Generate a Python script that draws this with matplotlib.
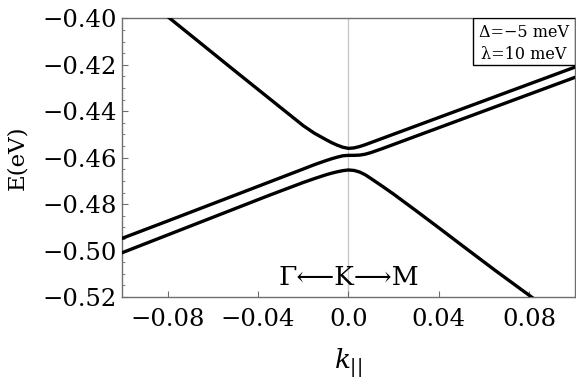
import matplotlib
matplotlib.use("Agg")
import matplotlib.pyplot as plt
from matplotlib.patches import Rectangle

# pasma E(k)
k_gorne = [-0.085, -0.079, -0.065, -0.050, -0.035, -0.020, -0.015, -0.010, -0.0075, -0.005, -0.0025,
           0.0, 0.0025, 0.005, 0.0075, 0.010, 0.015, 0.020, 0.035, 0.050, 0.065, 0.080, 0.100]
E_gorne = [-0.3953, -0.4000, -0.4110, -0.4228, -0.4345, -0.4462, -0.4495, -0.4522, -0.4535, -0.4546, -0.4555,
           -0.4560, -0.4558, -0.4552, -0.4544, -0.4535, -0.4517, -0.4499, -0.4445, -0.4391, -0.4337, -0.4283, -0.4211]

k_srodek = [-0.100, -0.080, -0.065, -0.050, -0.035, -0.020, -0.015, -0.010, -0.0075, -0.005, -0.0025,
            0.0, 0.0025, 0.005, 0.0075, 0.010, 0.015, 0.020, 0.035, 0.050, 0.065, 0.080, 0.100]
E_srodek = [-0.4947, -0.4873, -0.4817, -0.4761, -0.4705, -0.4649, -0.4630, -0.4613, -0.4605, -0.4598, -0.4592,
            -0.4590, -0.4590, -0.4589, -0.4585, -0.4578, -0.4561, -0.4543, -0.4489, -0.4435, -0.4381, -0.4327, -0.4255]

k_dolne = [-0.100, -0.080, -0.065, -0.050, -0.035, -0.020, -0.015, -0.010, -0.0075, -0.005, -0.0025,
           0.0, 0.0025, 0.005, 0.0075, 0.010, 0.015, 0.020, 0.030, 0.040, 0.050, 0.065, 0.081, 0.086]
E_dolne = [-0.5009, -0.4933, -0.4876, -0.4819, -0.4762, -0.4707, -0.4690, -0.4674, -0.4667, -0.4661, -0.4656,
           -0.4653, -0.4655, -0.4662, -0.4674, -0.4690, -0.4723, -0.4757, -0.4829, -0.4902, -0.4976, -0.5086, -0.5200, -0.5237]

xticks = [-0.08, -0.04, 0.0, 0.04, 0.08]
xlabels = ["\u22120.08", "\u22120.04", "0.0", "0.04", "0.08"]
yticks = [-0.52, -0.50, -0.48, -0.46, -0.44, -0.42, -0.40]
ylabels = ["\u22120.52", "\u22120.50", "\u22120.48", "\u22120.46", "\u22120.44", "\u22120.42", "\u22120.40"]

plt.rcParams['font.family'] = ['DejaVu Serif', 'DejaVu Sans']
plt.rcParams['mathtext.fontset'] = 'dejavuserif'

fig = plt.figure(figsize=(5.76, 3.83), dpi=100)
ax = fig.add_axes([0.2123, 0.2245, 0.7851, 0.7277])

ax.axvline(0, color='#c8c8c8', lw=1.0, zorder=1)
for k, E in [(k_gorne, E_gorne), (k_srodek, E_srodek), (k_dolne, E_dolne)]:
    ax.plot(k, E, color='black', lw=2.4, zorder=3)

ax.set_xlim(-0.1, 0.1)
ax.set_ylim(-0.52, -0.40)
ax.set_xticks(xticks)
ax.set_xticklabels(xlabels)
ax.set_yticks(yticks)
ax.set_yticklabels(ylabels)
ax.set_yticks([v / 1000 for v in range(-515, -400, 5) if v % 20 != 0], minor=True)

for s in ax.spines.values():
    s.set_color('#6e6e6e')
    s.set_linewidth(1.0)
ax.tick_params(which='both', direction='in', color='#6e6e6e', labelsize=17.5, top=False, right=False)
ax.tick_params(axis='x', which='major', length=4.5, pad=8)
ax.tick_params(axis='y', which='major', length=4.5, pad=4)
ax.tick_params(axis='y', which='minor', length=2.5)

ax.set_ylabel("E(eV)", fontsize=16.5)
ax.yaxis.set_label_coords(-0.208, 0.5)
ax.set_xlabel(r"$k_{||}$", fontsize=19)
ax.xaxis.set_label_coords(0.5, -0.175)

ax.text(0.0, -0.5149, "\u0393\u27f5K\u27f6M", fontsize=19, ha='center', va='baseline', zorder=4)

ax.add_patch(Rectangle((0.776, 0.8325), 0.224, 0.1675, transform=ax.transAxes,
                       fc='white', ec='black', lw=1.0, zorder=5))
ax.text(0.8884, 0.934, "\u0394=\u22125 meV", transform=ax.transAxes, fontsize=11.5,
        ha='center', va='baseline', zorder=6)
ax.text(0.8884, 0.8557, "\u03bb=10 meV", transform=ax.transAxes, fontsize=11.5,
        ha='center', va='baseline', zorder=6)

plt.savefig("out.png", dpi=100)
